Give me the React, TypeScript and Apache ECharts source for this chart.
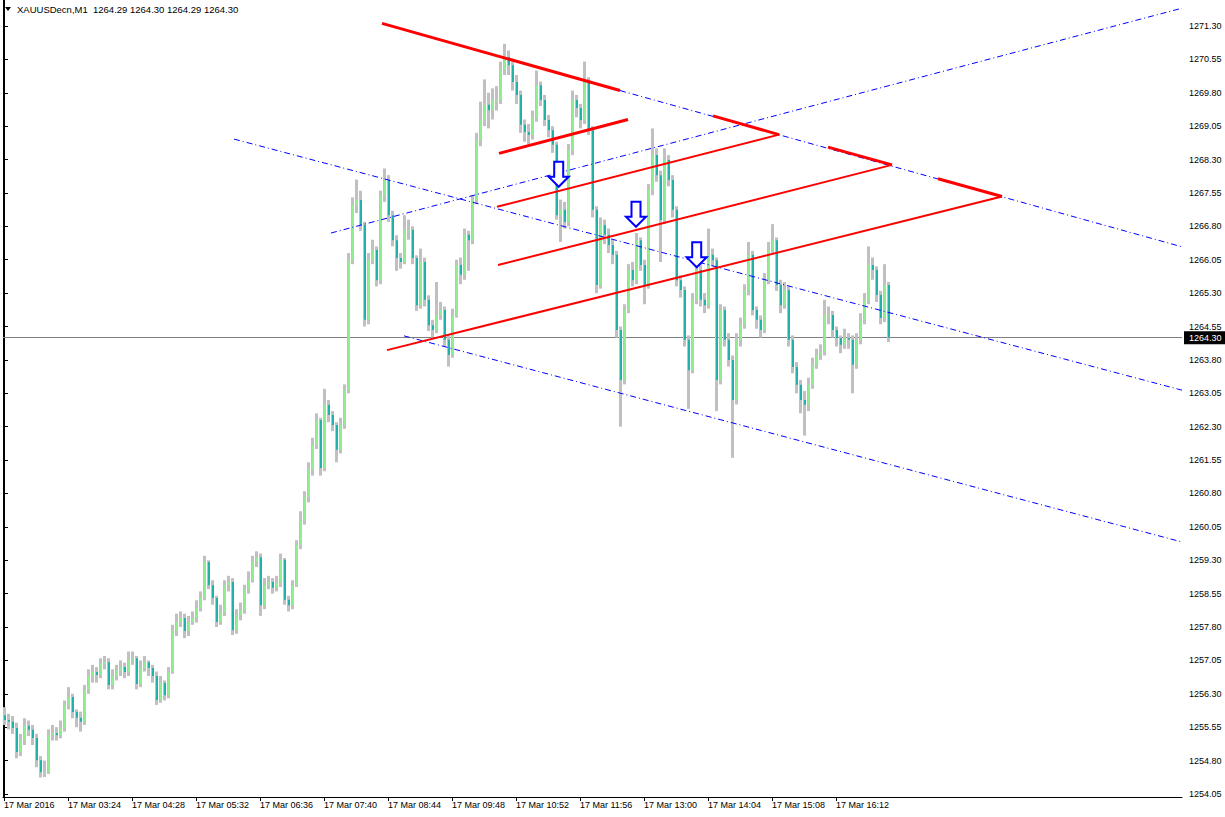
import React, { useEffect, useRef } from "react";
import * as echarts from "echarts";

const symbolTitle = "XAUUSDecn,M1  1264.29 1264.30 1264.29 1264.30";
const currentPrice = 1264.3;

const xTickMinutes = [0, 64, 128, 192, 256, 320, 384, 448, 512, 576, 640, 704, 768, 832];
const xTickLabels = [
  "17 Mar 2016", "17 Mar 03:24", "17 Mar 04:28", "17 Mar 05:32", "17 Mar 06:36",
  "17 Mar 07:40", "17 Mar 08:44", "17 Mar 09:48", "17 Mar 10:52", "17 Mar 11:56",
  "17 Mar 13:00", "17 Mar 14:04", "17 Mar 15:08", "17 Mar 16:12",
];
const yTicks = [
  1254.05, 1254.8, 1255.55, 1256.3, 1257.05, 1257.8, 1258.55, 1259.3, 1260.05, 1260.8,
  1261.55, 1262.3, 1263.05, 1263.8, 1264.55, 1265.3, 1266.05, 1266.8, 1267.55, 1268.3,
  1269.05, 1269.8, 1270.55, 1271.3,
];

const opens = [
  1255.82, 1255.71, 1255.67, 1255.53, 1254.99, 1255.26, 1255.58, 1255.49, 1255.31, 1254.81,
  1254.54, 1254.54, 1255.37, 1255.42, 1255.37, 1255.53, 1256.05, 1256.23, 1255.89, 1255.76,
  1255.67, 1256.39, 1256.70, 1256.79, 1256.72, 1256.97, 1257.01, 1256.50, 1256.70, 1256.83,
  1256.90, 1256.79, 1257.06, 1257.10, 1256.52, 1256.88, 1257.01, 1256.88, 1256.70, 1256.16,
  1256.54, 1256.27, 1256.79, 1257.73, 1257.91, 1258.00, 1257.71, 1257.91, 1258.00, 1258.23,
  1258.45, 1259.26, 1258.74, 1258.45, 1257.91, 1258.14, 1258.74, 1258.81, 1257.73, 1258.07,
  1258.18, 1258.63, 1258.86, 1259.26, 1259.37, 1258.29, 1258.74, 1258.81, 1258.68, 1258.79,
  1259.31, 1258.41, 1258.29, 1258.74, 1259.64, 1260.20, 1260.72, 1261.33, 1261.89, 1262.45,
  1261.37, 1262.79, 1262.56, 1262.34, 1261.78, 1262.34, 1263.12, 1266.04, 1267.28, 1267.39,
  1266.83, 1264.70, 1266.04, 1266.27, 1265.59, 1267.50, 1267.84, 1267.05, 1266.49, 1266.09,
  1266.00, 1266.72, 1266.72, 1266.09, 1265.03, 1266.00, 1265.15, 1264.58, 1264.47, 1264.81,
  1264.92, 1264.25, 1263.91, 1264.81, 1265.93, 1265.71, 1266.61, 1266.49, 1267.39, 1268.74,
  1269.19, 1269.53, 1269.41, 1269.64, 1269.64, 1270.31, 1270.60, 1270.42, 1270.04, 1269.75,
  1269.08, 1268.92, 1268.85, 1269.23, 1269.97, 1269.64, 1269.19, 1268.96, 1268.63, 1267.05,
  1267.17, 1266.90, 1268.51, 1269.64, 1269.46, 1269.19, 1270.09, 1268.96, 1267.17, 1265.48,
  1266.83, 1266.61, 1266.38, 1266.16, 1264.47, 1263.35, 1264.92, 1265.82, 1265.59, 1266.49,
  1265.93, 1265.48, 1267.62, 1268.40, 1267.95, 1266.94, 1268.29, 1267.84, 1267.17, 1265.59,
  1265.37, 1264.25, 1263.57, 1265.15, 1265.82, 1265.15, 1265.03, 1266.16, 1266.04, 1263.35,
  1264.92, 1264.25, 1263.80, 1262.90, 1264.25, 1264.58, 1265.37, 1266.16, 1264.92, 1264.70,
  1264.47, 1265.59, 1266.27, 1266.49, 1265.48, 1265.03, 1265.37, 1264.25, 1263.64, 1263.24,
  1262.90, 1262.79, 1263.24, 1263.69, 1263.91, 1263.98, 1264.81, 1264.81, 1264.47, 1264.29,
  1264.14, 1264.29, 1264.25, 1263.69, 1264.25, 1264.70, 1265.15, 1265.93, 1265.82, 1265.26,
  1264.74, 1265.48,
];

const highs = [
  1256.00, 1255.85, 1255.80, 1255.65, 1255.40, 1255.75, 1255.70, 1255.60, 1255.40, 1254.90,
  1254.80, 1255.50, 1255.60, 1255.55, 1255.70, 1256.15, 1256.45, 1256.30, 1255.95, 1255.90,
  1256.50, 1256.85, 1256.95, 1256.90, 1257.10, 1257.15, 1257.10, 1256.85, 1256.95, 1257.05,
  1257.00, 1257.25, 1257.25, 1257.15, 1257.05, 1257.15, 1257.05, 1256.95, 1256.80, 1256.70,
  1256.60, 1256.90, 1257.85, 1258.10, 1258.15, 1258.10, 1258.05, 1258.15, 1258.40, 1258.60,
  1259.40, 1259.30, 1258.85, 1258.50, 1258.30, 1258.85, 1258.95, 1258.90, 1258.20, 1258.35,
  1258.75, 1259.05, 1259.40, 1259.50, 1259.45, 1258.90, 1258.95, 1258.90, 1258.95, 1259.45,
  1259.35, 1258.50, 1258.85, 1259.75, 1260.40, 1260.85, 1261.50, 1262.05, 1262.60, 1262.50,
  1263.15, 1262.90, 1262.65, 1262.40, 1262.50, 1263.25, 1266.20, 1267.45, 1267.85, 1267.60,
  1266.90, 1266.20, 1266.50, 1266.35, 1267.60, 1268.10, 1267.95, 1267.15, 1266.60, 1266.20,
  1267.05, 1266.95, 1266.80, 1266.15, 1266.30, 1266.10, 1265.25, 1264.70, 1265.55, 1265.10,
  1265.00, 1264.35, 1264.95, 1266.05, 1266.10, 1266.75, 1266.70, 1267.50, 1268.90, 1269.60,
  1270.10, 1269.80, 1269.90, 1269.95, 1270.50, 1270.90, 1270.75, 1270.50, 1270.20, 1269.85,
  1269.20, 1269.10, 1269.40, 1270.30, 1270.05, 1269.75, 1269.30, 1269.05, 1268.70, 1267.40,
  1267.35, 1268.65, 1269.85, 1269.75, 1269.55, 1270.50, 1270.15, 1269.05, 1267.25, 1267.00,
  1266.95, 1266.75, 1266.50, 1266.25, 1264.55, 1265.05, 1265.95, 1266.00, 1266.65, 1266.55,
  1266.05, 1267.75, 1269.00, 1268.55, 1268.05, 1268.55, 1268.40, 1267.95, 1267.25, 1265.70,
  1265.45, 1264.35, 1265.30, 1266.00, 1265.95, 1265.30, 1266.75, 1266.30, 1266.10, 1265.05,
  1265.00, 1264.40, 1263.90, 1264.40, 1264.75, 1265.50, 1266.45, 1266.25, 1265.00, 1264.80,
  1265.75, 1266.45, 1266.85, 1266.55, 1265.60, 1265.55, 1265.45, 1264.35, 1263.75, 1263.35,
  1263.10, 1263.40, 1263.85, 1264.05, 1264.15, 1265.15, 1265.00, 1264.90, 1264.55, 1264.35,
  1264.50, 1264.40, 1264.35, 1264.40, 1264.85, 1265.30, 1266.35, 1266.10, 1265.90, 1265.35,
  1265.95, 1265.55,
];

const lows = [
  1255.60, 1255.50, 1255.40, 1254.85, 1254.90, 1255.15, 1255.35, 1255.15, 1254.65, 1254.42,
  1254.43, 1254.50, 1255.25, 1255.25, 1255.30, 1255.45, 1255.95, 1255.75, 1255.55, 1255.45,
  1255.60, 1256.30, 1256.55, 1256.55, 1256.65, 1256.85, 1256.40, 1256.40, 1256.60, 1256.70,
  1256.65, 1256.70, 1256.95, 1256.40, 1256.45, 1256.80, 1256.70, 1256.55, 1256.05, 1256.10,
  1256.15, 1256.20, 1256.75, 1257.60, 1257.80, 1257.55, 1257.60, 1257.85, 1257.90, 1258.15,
  1258.40, 1258.65, 1258.30, 1257.80, 1257.85, 1258.05, 1258.60, 1257.62, 1257.65, 1257.95,
  1258.10, 1258.55, 1258.80, 1259.15, 1258.05, 1258.20, 1258.65, 1258.55, 1258.60, 1258.70,
  1258.30, 1258.15, 1258.20, 1258.70, 1259.55, 1260.10, 1260.60, 1261.20, 1261.80, 1261.20,
  1261.30, 1262.40, 1262.20, 1261.50, 1261.70, 1262.25, 1263.05, 1265.95, 1267.10, 1266.70,
  1264.55, 1264.60, 1265.95, 1265.45, 1265.50, 1267.35, 1266.90, 1266.35, 1265.80, 1265.85,
  1265.95, 1266.50, 1265.95, 1264.90, 1264.95, 1265.00, 1264.45, 1264.30, 1264.40, 1264.70,
  1264.10, 1263.65, 1263.85, 1264.75, 1265.50, 1265.60, 1265.80, 1266.40, 1267.30, 1268.60,
  1269.05, 1269.00, 1269.20, 1269.40, 1269.55, 1270.20, 1270.20, 1269.85, 1269.55, 1268.90,
  1268.70, 1268.65, 1268.75, 1269.15, 1269.50, 1269.05, 1268.80, 1268.45, 1266.95, 1266.45,
  1266.75, 1266.80, 1268.40, 1269.25, 1269.00, 1269.10, 1268.85, 1267.00, 1265.30, 1265.40,
  1266.40, 1266.20, 1265.95, 1264.30, 1262.30, 1263.25, 1264.85, 1265.45, 1265.50, 1265.80,
  1265.05, 1265.40, 1267.50, 1267.80, 1266.00, 1266.85, 1267.70, 1267.00, 1265.45, 1265.20,
  1264.10, 1262.70, 1263.50, 1265.05, 1265.00, 1264.85, 1264.95, 1265.90, 1262.65, 1263.25,
  1264.10, 1263.65, 1261.60, 1262.80, 1264.10, 1264.50, 1265.25, 1264.80, 1264.50, 1264.30,
  1264.40, 1265.50, 1266.20, 1265.35, 1264.85, 1264.95, 1264.10, 1263.50, 1263.05, 1262.60,
  1262.10, 1262.65, 1263.15, 1263.60, 1263.80, 1263.90, 1264.60, 1264.30, 1264.10, 1263.95,
  1264.05, 1264.05, 1263.05, 1263.60, 1264.15, 1264.60, 1265.05, 1265.60, 1265.10, 1264.60,
  1264.65, 1264.20,
];

const closes = [
  1255.71, 1255.67, 1255.53, 1254.99, 1255.26, 1255.58, 1255.49, 1255.31, 1254.81, 1254.54,
  1254.54, 1255.37, 1255.42, 1255.37, 1255.53, 1256.05, 1256.23, 1255.89, 1255.76, 1255.67,
  1256.39, 1256.70, 1256.79, 1256.72, 1256.97, 1257.01, 1256.50, 1256.70, 1256.83, 1256.90,
  1256.79, 1257.06, 1257.10, 1256.52, 1256.88, 1257.01, 1256.88, 1256.70, 1256.16, 1256.54,
  1256.27, 1256.79, 1257.73, 1257.91, 1258.00, 1257.71, 1257.91, 1258.00, 1258.23, 1258.45,
  1259.26, 1258.74, 1258.45, 1257.91, 1258.14, 1258.74, 1258.81, 1257.73, 1258.07, 1258.18,
  1258.63, 1258.86, 1259.26, 1259.37, 1258.29, 1258.74, 1258.81, 1258.68, 1258.79, 1259.31,
  1258.41, 1258.29, 1258.74, 1259.64, 1260.20, 1260.72, 1261.33, 1261.89, 1262.45, 1261.37,
  1262.79, 1262.56, 1262.34, 1261.78, 1262.34, 1263.12, 1266.04, 1267.28, 1267.39, 1266.83,
  1264.70, 1266.04, 1266.27, 1265.59, 1267.50, 1267.84, 1267.05, 1266.49, 1266.09, 1266.00,
  1266.72, 1266.72, 1266.09, 1265.03, 1266.00, 1265.15, 1264.58, 1264.47, 1264.81, 1264.92,
  1264.25, 1263.91, 1264.81, 1265.93, 1265.71, 1266.61, 1266.49, 1267.39, 1268.74, 1269.19,
  1269.53, 1269.41, 1269.64, 1269.64, 1270.31, 1270.60, 1270.42, 1270.04, 1269.75, 1269.08,
  1268.92, 1268.85, 1269.23, 1269.97, 1269.64, 1269.19, 1268.96, 1268.63, 1267.05, 1267.17,
  1266.90, 1268.51, 1269.64, 1269.46, 1269.19, 1270.09, 1268.96, 1267.17, 1265.48, 1266.83,
  1266.61, 1266.38, 1266.16, 1264.47, 1263.35, 1264.92, 1265.82, 1265.59, 1266.49, 1265.93,
  1265.48, 1267.62, 1268.40, 1267.95, 1266.94, 1268.29, 1267.84, 1267.17, 1265.59, 1265.37,
  1264.25, 1263.57, 1265.15, 1265.82, 1265.15, 1265.03, 1266.16, 1266.04, 1263.35, 1264.92,
  1264.25, 1263.80, 1262.90, 1264.25, 1264.58, 1265.37, 1266.16, 1264.92, 1264.70, 1264.47,
  1265.59, 1266.27, 1266.49, 1265.48, 1265.03, 1265.37, 1264.25, 1263.64, 1263.24, 1262.90,
  1262.79, 1263.24, 1263.69, 1263.91, 1263.98, 1264.81, 1264.81, 1264.47, 1264.29, 1264.14,
  1264.29, 1264.25, 1263.69, 1264.25, 1264.70, 1265.15, 1265.93, 1265.82, 1265.26, 1264.74,
  1265.48, 1264.30,
];

// trend objects: [minute from 02:20, price]
const redThickLines = [
  [[378, 1271.36], [616, 1269.85]],
  [[495, 1268.44], [624, 1269.2]],
  [[709, 1269.28], [775, 1268.86]],
  [[824, 1268.58], [888, 1268.18]],
  [[934, 1267.87], [998, 1267.47]],
];
const redLines = [
  [[493, 1267.24], [775, 1268.86]],
  [[494, 1265.93], [888, 1268.18]],
  [[383, 1264.02], [998, 1267.47]],
];
const blueDashLines = [
  [[327, 1266.65], [1178, 1271.7]],
  [[230, 1268.76], [1178, 1263.12]],
  [[400, 1264.34], [1178, 1259.71]],
  [[616, 1269.85], [1178, 1266.34]],
];
const arrowPoints = [
  [554.7, 1267.69],
  [632, 1266.79],
  [692.7, 1265.88],
];

const FONT = "'Liberation Sans', Arial, sans-serif";
const Y_MIN = 1253.982;
const Y_MAX = 1271.884;

export default function App() {
  const ref = useRef<HTMLDivElement>(null);
  useEffect(() => {
    document.body.style.margin = "0";
    const chart = echarts.init(ref.current!, null, { renderer: "svg" });
    const barMinutes = closes.map((_, i) => 4 * i + 1);
    const candleData = closes.map((c, i) => [barMinutes[i], opens[i], c, lows[i], highs[i]]);

    const lineSeries: any[] = [];
    redThickLines.forEach((d, k) =>
      lineSeries.push({
        type: "line",
        data: d,
        symbol: "none",
        silent: true,
        z: 5,
        lineStyle: { color: "#FF0000", width: 3 },
        ...(k === 0
          ? {
              markLine: {
                silent: true,
                symbol: ["none", "none"],
                lineStyle: { color: "#808080", width: 1, type: "solid" },
                label: {
                  show: true,
                  position: "end",
                  distance: 2,
                  formatter: currentPrice.toFixed(2),
                  color: "#fff",
                  backgroundColor: "#000",
                  padding: [2, 6, 2, 5],
                  fontFamily: FONT,
                  fontSize: 9,
                },
                data: [{ yAxis: currentPrice }],
                z: 1,
              },
            }
          : {}),
      })
    );
    redLines.forEach((d) =>
      lineSeries.push({
        type: "line",
        data: d,
        symbol: "none",
        silent: true,
        z: 5,
        lineStyle: { color: "#FF0000", width: 2 },
      })
    );
    blueDashLines.forEach((d) =>
      lineSeries.push({
        type: "line",
        data: d,
        symbol: "none",
        silent: true,
        z: 4,
        lineStyle: { color: "#0000FF", width: 1, type: [6, 3, 1, 3] },
      })
    );

    const option: any = {
      animation: false,
      backgroundColor: "#ffffff",
      grid: { left: 3, right: 43, top: 0, bottom: 20 },
      xAxis: {
        type: "value",
        min: -1,
        max: 1178,
        splitLine: { show: false },
        axisLine: { show: true, lineStyle: { color: "#000", width: 1 } },
        axisTick: {
          show: true,
          length: 4,
          lineStyle: { color: "#000" },
          customValues: xTickMinutes,
        },
        axisLabel: {
          customValues: xTickMinutes,
          formatter: (v: number) => {
            const k = xTickMinutes.indexOf(Math.round(v));
            return k >= 0 ? xTickLabels[k] : "";
          },
          align: "left",
          margin: 3,
          color: "#000",
          fontFamily: FONT,
          fontSize: 9,
        },
      },
      yAxis: [
        {
          type: "value",
          position: "right",
          min: Y_MIN,
          max: Y_MAX,
          splitLine: { show: false },
          axisLine: { show: true, lineStyle: { color: "#000", width: 1 } },
          axisTick: {
            show: true,
            length: 4,
            lineStyle: { color: "#000" },
            customValues: yTicks,
          },
          axisLabel: {
            customValues: yTicks,
            formatter: (v: number) => v.toFixed(2),
            margin: 7,
            color: "#000",
            fontFamily: FONT,
            fontSize: 9,
          },
        },
        {
          type: "value",
          position: "left",
          min: Y_MIN,
          max: Y_MAX,
          splitLine: { show: false },
          axisLine: { show: true, lineStyle: { color: "#000", width: 1 } },
          axisTick: { show: false },
          axisLabel: { show: false },
        },
      ],
      graphic: [
        {
          type: "polygon",
          shape: { points: [[5, 7], [11, 7], [8, 11]] },
          style: { fill: "#000" },
          z: 100,
        },
        {
          type: "text",
          x: 17,
          y: 9,
          style: {
            text: symbolTitle,
            fill: "#000",
            font: `9.5px ${FONT}`,
            verticalAlign: "middle",
          },
          z: 100,
        },
      ],
      series: [
        {
          type: "custom",
          name: "XAUUSDecn",
          silent: true,
          z: 2,
          data: candleData,
          encode: { x: 0, y: [1, 2, 3, 4] },
          renderItem: (_p: any, api: any) => {
            const t = api.value(0);
            const o = api.value(1);
            const c = api.value(2);
            const l = api.value(3);
            const h = api.value(4);
            const pH = api.coord([t, h]);
            const pL = api.coord([t, l]);
            const pO = api.coord([t, o]);
            const pC = api.coord([t, c]);
            const x = Math.round(pH[0]);
            const top = Math.min(pO[1], pC[1]);
            const bh = Math.max(1, Math.abs(pO[1] - pC[1]));
            return {
              type: "group",
              children: [
                {
                  type: "rect",
                  shape: { x: x - 2, y: pH[1], width: 3, height: Math.max(1, pL[1] - pH[1]) },
                  style: { fill: "#C0C0C0" },
                },
                {
                  type: "rect",
                  shape: { x: x - 1, y: top, width: 2, height: bh },
                  style: { fill: c >= o ? "#90EE90" : "#20B2AA" },
                },
              ],
            };
          },
        },
        ...lineSeries,
        {
          type: "custom",
          name: "arrows",
          silent: true,
          z: 6,
          data: arrowPoints,
          encode: { x: 0, y: 1 },
          renderItem: (_p: any, api: any) => {
            const p = api.coord([api.value(0), api.value(1)]);
            const x = p[0];
            const y = p[1];
            return {
              type: "polygon",
              shape: {
                points: [
                  [x, y],
                  [x - 10, y - 10],
                  [x - 4.5, y - 10],
                  [x - 4.5, y - 25],
                  [x + 4.5, y - 25],
                  [x + 4.5, y - 10],
                  [x + 10, y - 10],
                ],
              },
              style: { fill: "#ffffff", stroke: "#0000FF", lineWidth: 2 },
            };
          },
        },
      ],
    };
    chart.setOption(option);
    return () => chart.dispose();
  }, []);
  return (
    <div
      ref={ref}
      style={{ position: "absolute", left: 0, top: 0, width: 1225, height: 817, background: "#fff" }}
    />
  );
}
